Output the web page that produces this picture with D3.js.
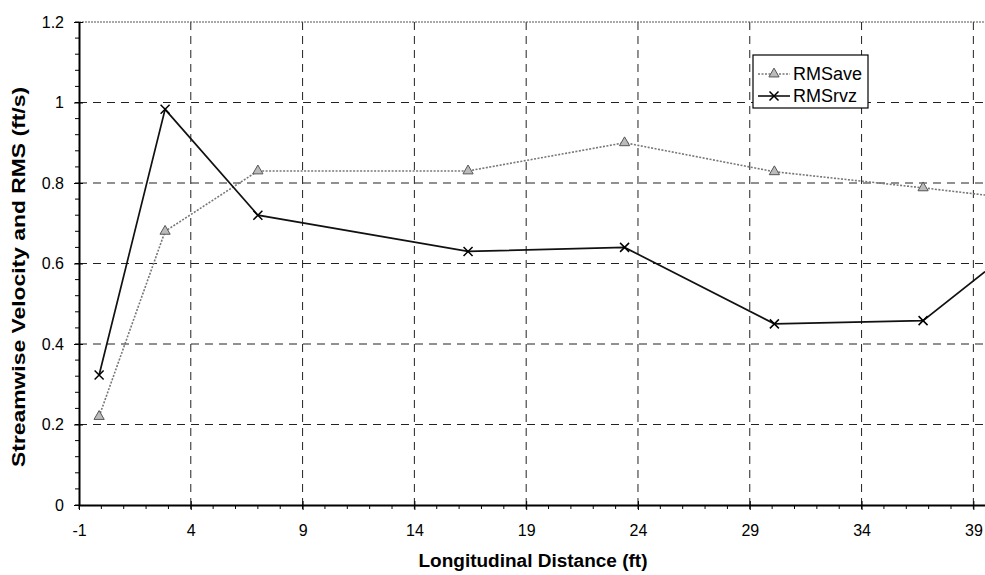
<!DOCTYPE html>
<html>
<head>
<meta charset="utf-8">
<script src="https://cdn.jsdelivr.net/npm/d3@7"></script>
<style>
  html, body { margin: 0; padding: 0; background: #fff; }
  svg { display: block; font-family: "Liberation Sans", Arial, sans-serif; }
</style>
</head>
<body>
<svg id="chart" width="985" height="575"></svg>
<script>
// ---- data ----
const xTickValues = [-1, 4, 9, 14, 19, 24, 29, 34, 39];
const xTickLabels = ["-1", "4", "9", "14", "19", "24", "29", "34", "39"];
const yTickValues = [0, 0.2, 0.4, 0.6, 0.8, 1, 1.2];
const yTickLabels = ["0", "0.2", "0.4", "0.6", "0.8", "1", "1.2"];
const xDomain = [-1, 39.52];
const yDomain = [0, 1.2];
// last point is where the lines leave the plot at the right edge
const distance = [-0.1, 2.85, 7.0, 16.4, 23.4, 30.1, 36.75, 39.52];
const rmsAve   = [0.22, 0.68, 0.83, 0.83, 0.90, 0.828, 0.788, 0.77];
const rmsRvz   = [0.323, 0.983, 0.72, 0.63, 0.64, 0.45, 0.458, 0.58];
const seriesNames = ["RMSave", "RMSrvz"];
const xTitle = "Longitudinal Distance (ft)";
const yTitle = "Streamwise Velocity and RMS (ft/s)";

// ---- layout ----
const svg = d3.select("#chart");
const L = 79, R = 985, T = 22, B = 505;
const x = d3.scaleLinear().domain(xDomain).range([L, R]);
const y = d3.scaleLinear().domain(yDomain).range([B, T]);

// gridlines
const grid = svg.append("g");
grid.selectAll("line.h").data(yTickValues.filter(v => v > 0 && v < 1.2)).join("line")
  .attr("x1", L).attr("x2", R).attr("y1", d => y(d)).attr("y2", d => y(d))
  .attr("stroke", "#222").attr("stroke-width", 1).attr("stroke-dasharray", "8,6");
grid.selectAll("line.v").data(xTickValues.filter(v => v > xDomain[0])).join("line")
  .attr("y1", T).attr("y2", B).attr("x1", d => x(d)).attr("x2", d => x(d))
  .attr("stroke", "#222").attr("stroke-width", 1).attr("stroke-dasharray", "8,6");
// top border (dotted)
svg.append("line").attr("x1", L).attr("x2", R).attr("y1", T).attr("y2", T)
  .attr("stroke", "#555").attr("stroke-width", 1.2).attr("stroke-dasharray", "2,1");

// axes
const yAxis = d3.axisLeft(y).tickValues(yTickValues).tickFormat((d, i) => yTickLabels[i])
  .tickSizeInner(5).tickSizeOuter(0).tickPadding(10);
const gy = svg.append("g").attr("transform", `translate(${L},0)`).call(yAxis);
const yMinor = d3.range(0, 1.2001, 0.04);
svg.append("g").selectAll("line").data(yMinor).join("line")
  .attr("x1", L - 4).attr("x2", L).attr("y1", d => y(d)).attr("y2", d => y(d))
  .attr("stroke", "#000").attr("stroke-width", 1);

const xAxis = d3.axisBottom(x).tickValues(xTickValues).tickFormat((d, i) => xTickLabels[i])
  .tickSizeInner(5).tickSizeOuter(0).tickPadding(15);
const gx = svg.append("g").attr("transform", `translate(0,${B})`).call(xAxis);
const xMinor = d3.range(-1, 40, 1).filter(v => v <= xDomain[1]);
svg.append("g").selectAll("line").data(xMinor).join("line")
  .attr("y1", B).attr("y2", B + 4).attr("x1", d => x(d)).attr("x2", d => x(d))
  .attr("stroke", "#000").attr("stroke-width", 1);

[gx, gy].forEach(g => {
  g.select(".domain").attr("stroke", "#000").attr("stroke-width", 2);
  g.selectAll(".tick line").attr("stroke", "#000").attr("stroke-width", 1);
  g.selectAll(".tick text").attr("fill", "#000").style("font-size", "16px")
    .style("font-family", "'Liberation Sans', Arial, sans-serif");
});
gy.selectAll(".tick line").attr("x2", 4).attr("x1", -5);
gx.selectAll(".tick line").attr("y1", -4).attr("y2", 5);

// axis titles
svg.append("text").attr("x", 533).attr("y", 567).attr("text-anchor", "middle")
  .style("font-size", "18px").style("font-weight", "bold")
  .attr("textLength", 229).attr("lengthAdjust", "spacingAndGlyphs").text(xTitle);
svg.append("text").attr("transform", `translate(25,${277}) rotate(-90)`)
  .attr("text-anchor", "middle")
  .style("font-size", "18px").style("font-weight", "bold")
  .attr("textLength", 380).attr("lengthAdjust", "spacingAndGlyphs").text(yTitle);

// series
svg.append("clipPath").attr("id", "plotclip").append("rect")
  .attr("x", L).attr("y", T - 6).attr("width", R - L).attr("height", B - T + 6);
const plot = svg.append("g").attr("clip-path", "url(#plotclip)");
const line = d3.line().x(d => x(d[0])).y(d => y(d[1]));
const aveData = distance.map((d, i) => [d, rmsAve[i]]);
const rvzData = distance.map((d, i) => [d, rmsRvz[i]]);

plot.append("path").datum(aveData).attr("d", line).attr("fill", "none")
  .attr("stroke", "#777").attr("stroke-width", 1.6).attr("stroke-dasharray", "2,1.5");
plot.append("path").datum(rvzData).attr("d", line).attr("fill", "none")
  .attr("stroke", "#111").attr("stroke-width", 1.7);

const tri = d3.symbol().type(d3.symbolTriangle).size(45);
function xMark(g, cx, cy, s) {
  g.append("path").attr("d", `M${cx - s},${cy - s}L${cx + s},${cy + s}M${cx - s},${cy + s}L${cx + s},${cy - s}`)
    .attr("stroke", "#000").attr("stroke-width", 1.5).attr("fill", "none");
}
aveData.filter(d => d[0] < xDomain[1]).forEach(d => {
  plot.append("path").attr("d", tri).attr("transform", `translate(${x(d[0])},${y(d[1])})`)
    .attr("fill", "#bbb").attr("stroke", "#555").attr("stroke-width", 1);
});
rvzData.filter(d => d[0] < xDomain[1]).forEach(d => xMark(plot, x(d[0]), y(d[1]), 4.5));

// legend
const lg = svg.append("g");
lg.append("rect").attr("x", 753).attr("y", 55).attr("width", 115).attr("height", 53)
  .attr("fill", "#fff").attr("stroke", "#000").attr("stroke-width", 1.2);
const ly = [74, 96];
lg.append("line").attr("x1", 758).attr("x2", 790).attr("y1", ly[0]).attr("y2", ly[0])
  .attr("stroke", "#777").attr("stroke-width", 1.4).attr("stroke-dasharray", "2,1.5");
lg.append("path").attr("d", tri).attr("transform", `translate(774,${ly[0]})`)
  .attr("fill", "#bbb").attr("stroke", "#555").attr("stroke-width", 1);
lg.append("line").attr("x1", 758).attr("x2", 790).attr("y1", ly[1]).attr("y2", ly[1])
  .attr("stroke", "#111").attr("stroke-width", 1.6);
xMark(lg, 774, ly[1], 4.5);
seriesNames.forEach((n, i) => {
  lg.append("text").attr("x", 793).attr("y", ly[i] + 6).style("font-size", "18px")
    .attr("fill", "#000").text(n);
});
</script>
</body>
</html>
